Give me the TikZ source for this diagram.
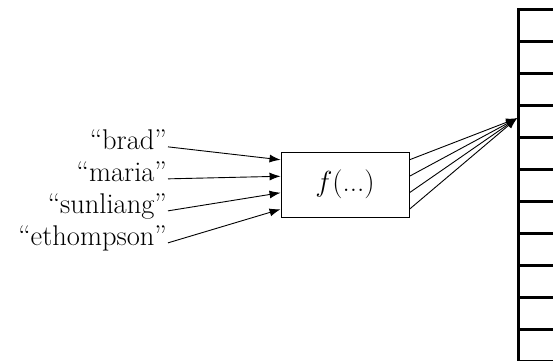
\RequirePackage{fix-cm}
\documentclass[tikz,border=0pt]{standalone}
\usepackage{amsmath}
\usepackage{fontspec}
\usepackage{tikz}
\usetikzlibrary{arrows.meta, calc, positioning}
\tikzstyle{line} = [draw, -{Latex[length=11pt,width=8pt]}, line width=0.9pt]
\tikzstyle{key} = [anchor=base east, inner sep=1pt, font=\fontsize{28.5}{32}\selectfont]
\tikzstyle{slot} = [draw, line width=2.5pt, anchor=north west, minimum width=80pt, minimum height=32pt, inner sep=0pt]

\begin{document}
\begin{tikzpicture}[x=1pt, y=-1pt]

\useasboundingbox (0,0) rectangle (553,360);
\clip (0,0) rectangle (553,360);

% the table
\foreach \i in {0,...,10}{
  \node [slot] (s\i) at (517, 8+32*\i) {};
}

% the hash function
\node [draw, line width=0.9pt, minimum width=128pt, minimum height=65pt,
  font=\fontsize{29}{32}\selectfont] (hash) at (345, 184.5) {$f(\text{...})$};

% the keys
\node [key] (brad) at (168, 149) {``brad''};
\node [key] (maria) at (168, 181) {``maria''};
\node [key] (sunliang) at (168, 213) {``sunliang''};
\node [key] (ethompson) at (168, 245) {``ethompson''};

\foreach \k/\f in {brad/0.125, maria/0.375, sunliang/0.625, ethompson/0.875}{
  \draw[line] (\k.mid east) -- ($(hash.north west)!\f!(hash.south west)$);
  \draw[line] ($(hash.north east)!\f!(hash.south east)$) -- ([yshift=3pt]s3.west);
}

\end{tikzpicture}
\end{document}
